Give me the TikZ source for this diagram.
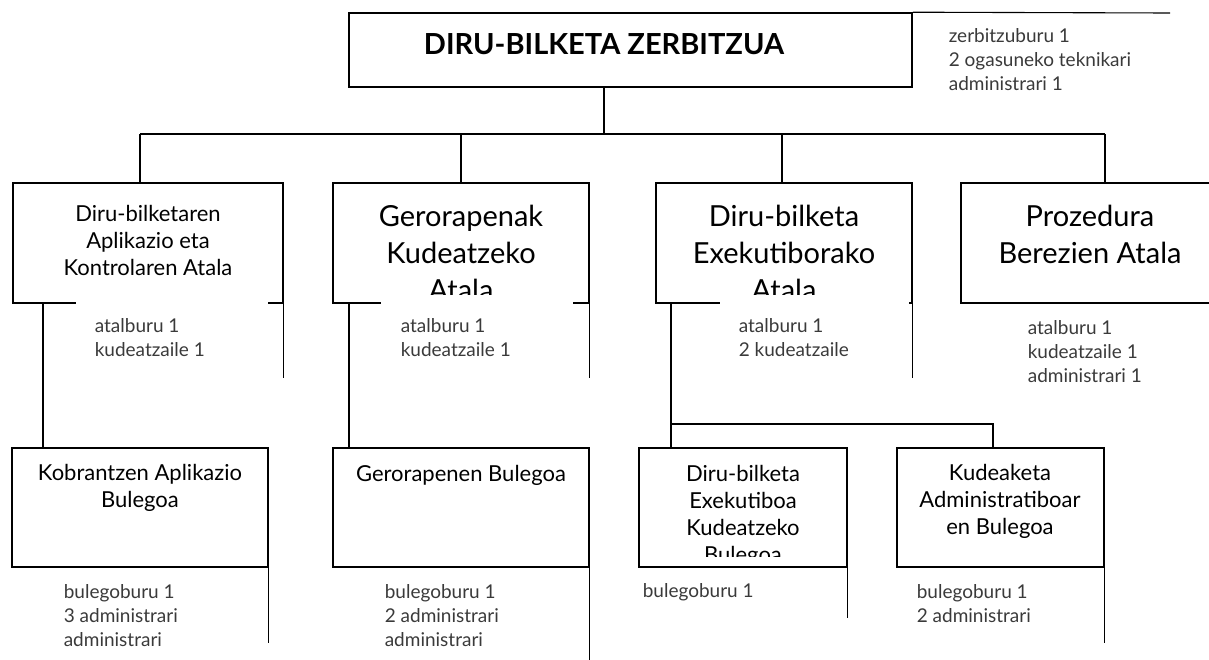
\documentclass[tikz,border=0pt]{standalone}
\usepackage{fontspec}
\setmainfont{Lato}
\usepackage{tikz}

\definecolor{stafftext}{HTML}{3A3A3A}
\newcommand{\titlefont}{\fontsize{29}{34}\selectfont\bfseries}
\newcommand{\bigunitfont}{\fontsize{29}{37}\selectfont}
\newcommand{\unitfont}{\fontsize{22}{27}\selectfont}
\newcommand{\stafffont}{\fontsize{19}{24}\selectfont}

\begin{document}
\begin{tikzpicture}[x=1pt,y=-1pt,line width=1.6pt,
	box/.style={draw,rectangle,inner sep=0pt},
	boxtext/.style={align=center,inner sep=0pt},
	staff/.style={anchor=west,align=left,inner sep=0pt,text=stafftext,font=\stafffont},
	staffline/.style={line width=1.1pt},
	cover/.style={fill=white,draw=none}]
	\useasboundingbox (0,0) rectangle (1209,659);
	\clip (0,0) rectangle (1209,659);
	
	%SERVICE BOX
	\node[box,minimum width=563,minimum height=74] (zerbitzua) at (630.5,50) {};
	\node[boxtext,font=\titlefont] (zerbtitle) at (604,44) {DIRU-BILKETA ZERBITZUA};
	
	%UNIT BOXES
	\node[box,minimum width=270,minimum height=120] (aplikazio) at (148,243) {};
	\node[box,minimum width=256,minimum height=120] (gerorapenak) at (461,243) {};
	\node[box,minimum width=256,minimum height=120] (exekutiboa) at (784,243) {};
	\node[box,minimum width=258,minimum height=120] (prozedura) at (1090,243) {};
	\node[boxtext,font=\unitfont] (aplikaziotxt) at (148,240) {Diru-bilketaren\\Aplikazio eta\\Kontrolaren Atala};
	\node[boxtext,font=\bigunitfont] (gerorapenaktxt) at (461,253) {Gerorapenak\\Kudeatzeko\\Atala};
	\node[boxtext,font=\bigunitfont] (exekutibotxt) at (784,253) {Diru-bilketa\\Exekutiborako\\Atala};
	\node[boxtext,font=\bigunitfont] (prozeduratxt) at (1090,234) {Prozedura\\Berezien Atala};
	
	%OFFICE BOXES
	\node[boxtext,font=\unitfont] (kobrantzentxt) at (140,488) {Kobrantzen Aplikazio\\Bulegoa};
	\node[boxtext,font=\unitfont] (gerorapenentxt) at (461,475) {Gerorapenen Bulegoa};
	\node[boxtext,font=\unitfont] (exekbulegotxt) at (743,516) {Diru-bilketa\\Exekutiboa\\Kudeatzeko\\Bulegoa};
	\node[boxtext,font=\unitfont] (kudeaketatxt) at (1000,501) {Kudeaketa\\Administratiboar\\en Bulegoa};
	\fill[cover] (640,557) rectangle (846,570);
	\node[box,minimum width=256,minimum height=119] (kobrantzen) at (140,507.5) {};
	\node[box,minimum width=256,minimum height=119] (gerorapenen) at (461,507.5) {};
	\node[box,minimum width=208,minimum height=119] (exekbulego) at (743,507.5) {};
	\node[box,minimum width=207,minimum height=119] (kudeaketa) at (1000.5,507.5) {};
	
	%STAFF BOXES COVERING THE UNITS
	\fill[cover] (76,295) rectangle (268,306);
	\fill[cover] (381,295) rectangle (573,306);
	\fill[cover] (720,295) rectangle (909,306);
	
	%STAFF BOX EDGES
	\draw[staffline] (zerbitzua.north east) -- (1170,13);
	\draw[staffline] (aplikazio.south east) -- ++(0,74);
	\draw[staffline] (gerorapenak.south east) -- ++(0,74);
	\draw[staffline] (exekutiboa.south east) -- ++(0,74);
	\draw[staffline] (kobrantzen.south east) -- ++(0,75);
	\draw[staffline] (gerorapenen.south east) -- ++(0,92);
	\draw[staffline] (exekbulego.south east) -- ++(0,50);
	\draw[staffline] (kudeaketa.south east) -- ++(0,75);
	
	%CONNECTORS
	\draw (zerbitzua.south -| zerbtitle) -- ++(0,46) coordinate (bar);
	\draw (bar -| 140,0) -- (bar -| 1105,0);
	\foreach \u/\x in {aplikazio/140,gerorapenak/461,exekutiboa/782,prozedura/1105}
		\draw (bar -| \x,0) -- (\u.north -| \x,0);
	\draw (aplikazio.south -| 43,0) -- (kobrantzen.north -| 43,0);
	\draw (gerorapenak.south -| 349,0) -- (gerorapenen.north -| 349,0);
	\draw (exekutiboa.south -| 671,0) -- (exekbulego.north -| 671,0);
	\draw (671,424) -| (kudeaketa.north -| 993,0);
	
	%STAFF TEXTS
	\node[staff] (zerbstaff) at (948,60) {zerbitzuburu 1\\2 ogasuneko teknikari\\administrari 1};
	\node[staff] (aplikaziostaff) at (94,338) {atalburu 1\\kudeatzaile 1};
	\node[staff] (gerorapenakstaff) at (400,338) {atalburu 1\\kudeatzaile 1};
	\node[staff] (exekutibostaff) at (738,338) {atalburu 1\\2 kudeatzaile};
	\node[staff] (prozedurastaff) at (1027,352) {atalburu 1\\kudeatzaile 1\\administrari 1};
	\node[staff] (kobrantzenstaff) at (63,616) {bulegoburu 1\\3 administrari\\administrari};
	\node[staff] (gerorapenenstaff) at (384,616) {bulegoburu 1\\2 administrari\\administrari};
	\node[staff] (exekbulegostaff) at (642,592) {bulegoburu 1};
	\node[staff] (kudeaketastaff) at (916,604) {bulegoburu 1\\2 administrari};
\end{tikzpicture}
\end{document}
